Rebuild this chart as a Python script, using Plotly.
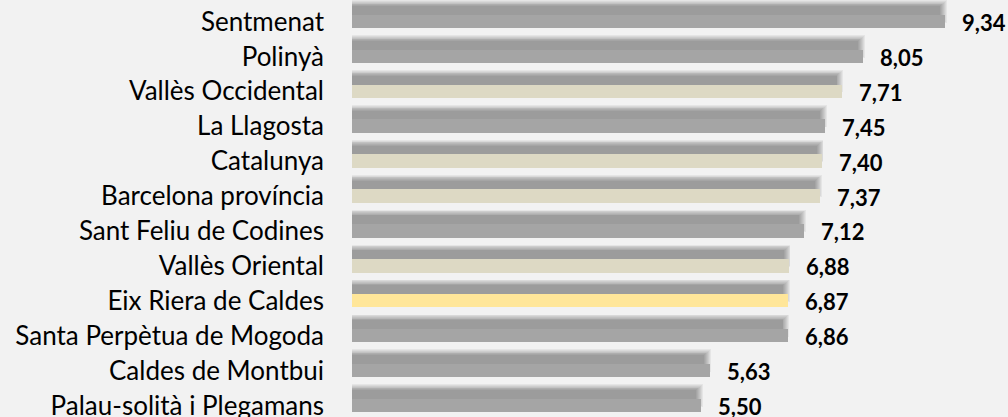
import plotly.graph_objects as go

categories = ["Sentmenat", "Polinyà", "Vallès Occidental", "La Llagosta", "Catalunya",
              "Barcelona província", "Sant Feliu de Codines", "Vallès Oriental",
              "Eix Riera de Caldes", "Santa Perpètua de Mogoda", "Caldes de Montbui",
              "Palau-solità i Plegamans"]
values = [9.34, 8.05, 7.71, 7.45, 7.40, 7.37, 7.12, 6.88, 6.87, 6.86, 5.63, 5.50]
groups = ["mun", "mun", "area", "mun", "area", "area", "mun", "area", "eix", "mun", "mun", "mun"]

group_colors = {"mun": "#a5a5a5", "area": "#ddd9c4", "eix": "#ffe699"}

n = len(categories)
pos = [n - 1 - i for i in range(n)]  # top row first
colors = [group_colors[g] for g in groups]

px_per_row = 34.9
bar_w = 13.5 / px_per_row
shadow_shift = 10 / px_per_row

fig = go.Figure()

# soft shadow layers (blur emulation)
layers = 8
for k in range(layers):
    w = (11 + 1.6 * k) / px_per_row
    dx = -0.08 + k * 0.015
    fig.add_trace(go.Bar(
        x=[v + dx for v in values],
        y=[p + shadow_shift for p in pos],
        orientation="h",
        width=w,
        marker=dict(color="rgba(0,0,0,0.05)", line=dict(width=0)),
        hoverinfo="skip",
        showlegend=False,
    ))

fig.add_trace(go.Bar(
    x=values,
    y=pos,
    orientation="h",
    width=bar_w,
    marker=dict(color=colors, line=dict(width=0)),
    showlegend=False,
))

for v, p in zip(values, pos):
    fig.add_annotation(
        x=v, y=p, xref="x", yref="y",
        text=f"{v:.2f}".replace(".", ","),
        showarrow=False, xanchor="left", yanchor="middle",
        xshift=15, yshift=-1,
        font=dict(family="Lato", size=22, color="#000000", weight="bold"),
    )

top_val = (n - 1) + 21.5 / px_per_row
bottom_val = top_val - 417 / px_per_row

fig.update_layout(
    width=1008, height=417,
    margin=dict(l=352, r=0, t=0, b=0, autoexpand=False),
    paper_bgcolor="#f2f2f2",
    plot_bgcolor="#f2f2f2",
    barmode="overlay",
    bargap=0,
    xaxis=dict(range=[0, 656 / 63.5], visible=False, fixedrange=True, automargin=False),
    yaxis=dict(
        range=[bottom_val, top_val],
        tickvals=pos, ticktext=categories,
        showgrid=False, zeroline=False, showline=False,
        ticks="", ticklabelstandoff=27, automargin=False,
        ticklabeloverflow="allow",
        tickfont=dict(family="Lato", size=26, color="#000000"),
        fixedrange=True,
    ),
    font=dict(family="Lato"),
)

fig.write_html(
    "out.html",
    config={"displayModeBar": False},
    post_script="document.body.style.margin='0';document.body.style.background='#f2f2f2';",
)
